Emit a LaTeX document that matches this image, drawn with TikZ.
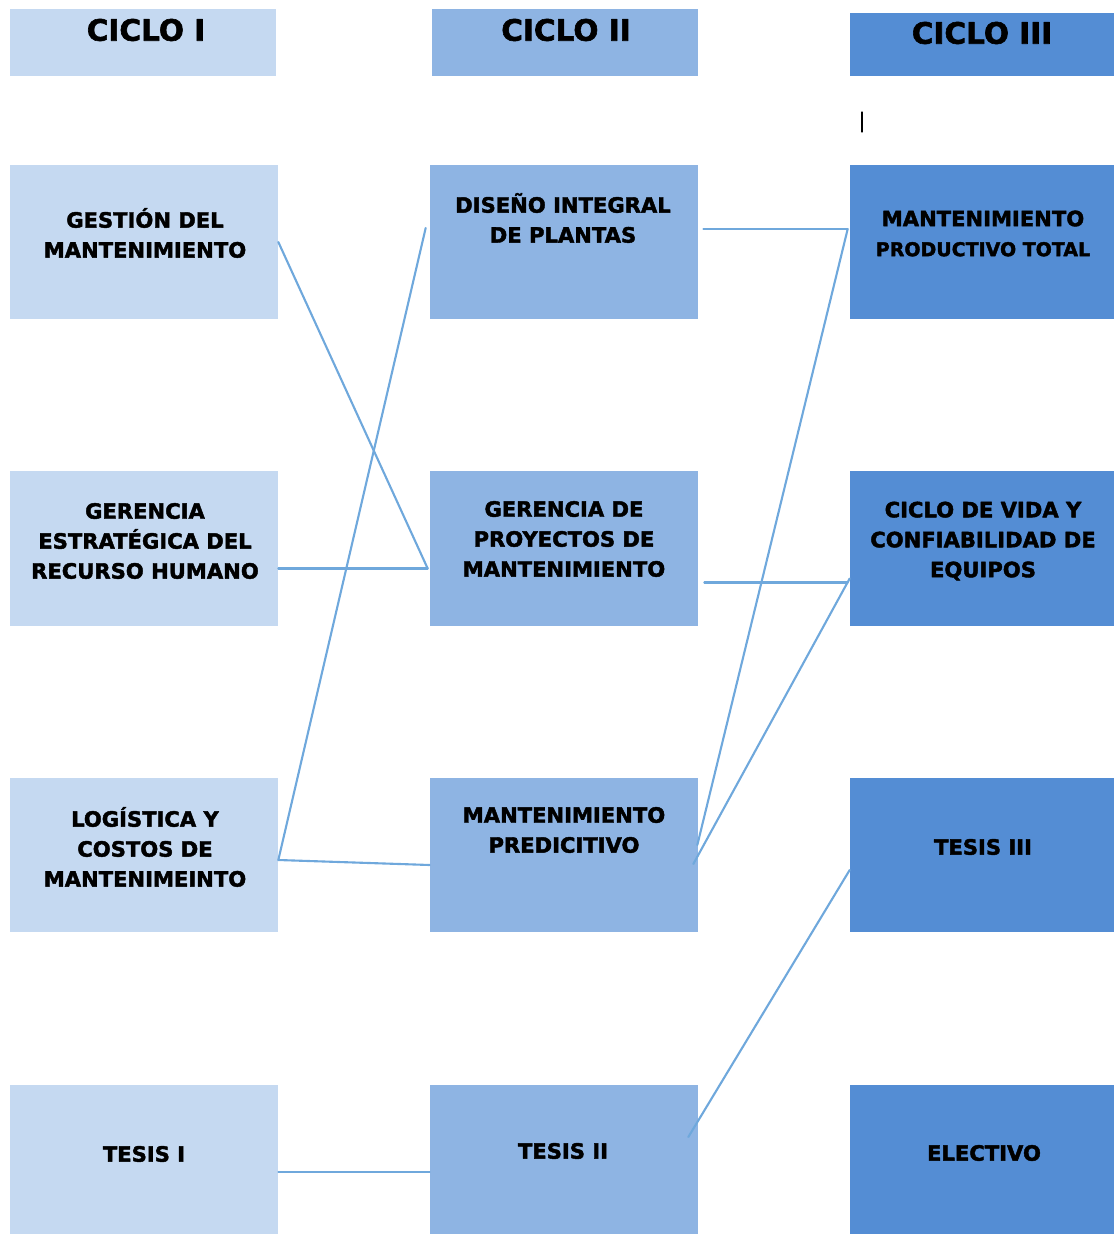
\documentclass[tikz,border=0pt]{standalone}
\usepackage{fontspec}
\setmainfont{DejaVu Sans}[BoldFeatures={FakeBold=2}]
\usetikzlibrary{calc}
\definecolor{cicloA}{RGB}{197,217,241}
\definecolor{cicloB}{RGB}{142,180,227}
\definecolor{cicloC}{RGB}{84,141,212}
\definecolor{azulenlace}{RGB}{111,168,220}

\begin{document}
\begin{tikzpicture}[x=0.025cm,y=-0.025cm,line cap=round,line join=round,
  cabecera/.style={rectangle,inner sep=0pt,minimum width=6.65cm,minimum height=1.675cm},
  caja/.style={rectangle,inner sep=0pt,minimum width=6.7cm,minimum height=3.85cm},
  titulo/.style={inner sep=0pt,font=\fontsize{21}{25}\selectfont\bfseries},
  texto/.style={inner sep=0pt,align=center,font=\fontsize{15}{21.3}\selectfont\bfseries},
  cruce/.style={draw=azulenlace,line width=1.5pt}]
  \useasboundingbox (0,0) rectangle (1114,1234);
  \begin{scope}
  \clip (0,0) rectangle (1114,1234);
  % cabeceras
  \node[cabecera,fill=cicloA] (cicloI) at (143,42.5) {};
  \node[cabecera,fill=cicloB] (cicloII) at (565,42.5) {};
  \node[cabecera,fill=cicloC,minimum width=6.6cm,minimum height=1.575cm] (cicloIII) at (982,44.5) {};
  \node[titulo] (cicloI-t) at (146,30) {CICLO I};
  \node[titulo] (cicloII-t) at (566,30) {CICLO II};
  \node[titulo] (cicloIII-t) at (982,33) {CICLO III};
  \draw[line width=0.9pt] (862,112) -- (862,132);
  % ciclo I
  \node[caja,fill=cicloA] (gestion) at (144,242) {};
  \node[caja,fill=cicloA] (gerrh) at (144,548.5) {};
  \node[caja,fill=cicloA] (logis) at (144,855) {};
  \node[caja,fill=cicloA] (tes1) at (144,1162) {};
  % ciclo II
  \node[caja,fill=cicloB] (diseno) at (564,242) {};
  \node[caja,fill=cicloB] (gerpm) at (564,548.5) {};
  \node[caja,fill=cicloB] (predic) at (564,855) {};
  \node[caja,fill=cicloB] (tes2) at (564,1162) {};
  % ciclo III
  \node[caja,fill=cicloC,minimum width=6.6cm] (tpm) at (982,242) {};
  \node[caja,fill=cicloC,minimum width=6.6cm] (vida) at (982,548.5) {};
  \node[caja,fill=cicloC,minimum width=6.6cm] (tes3) at (982,855) {};
  \node[caja,fill=cicloC,minimum width=6.6cm] (elect) at (982,1162) {};
  % textos
  \node[texto] (gestion-t) at (145,233) {GESTIÓN DEL\\MANTENIMIENTO};
  \node[texto] (gerrh-t) at (145,541) {GERENCIA\\ESTRATÉGICA DEL\\RECURSO HUMANO};
  \node[texto] (logis-t) at (145,847) {LOGÍSTICA Y\\COSTOS DE\\MANTENIMEINTO};
  \node[texto] (tes1-t) at (144,1154) {TESIS I};
  \node[texto] (diseno-t) at (563,218) {DISEÑO INTEGRAL\\DE PLANTAS};
  \node[texto] (gerpm-t) at (564,539) {GERENCIA DE\\PROYECTOS DE\\MANTENIMIENTO};
  \node[texto] (predic-t) at (564,830) {MANTENIMIENTO\\PREDICITIVO};
  \node[texto] (tes2-t) at (563,1151) {TESIS II};
  \node[texto] (tpm-t) at (983,233.5) {MANTENIMIENTO\\{\fontsize{13.5}{21.3}\selectfont PRODUCTIVO TOTAL}};
  \node[texto] (vida-t) at (983,541) {CICLO DE VIDA Y\\CONFIABILIDAD DE\\EQUIPOS};
  \node[texto] (tes3-t) at (983,847) {TESIS III};
  \node[texto] (elect-t) at (984,1153) {ELECTIVO};
  % enlaces
  \draw[cruce] (gestion.east) -- ($(gerpm.west)+(-2,20)$);
  \draw[cruce] ($(gerrh.east)+(0,20)$) -- ($(gerpm.west)+(-2,20)$);
  \draw[cruce] ($(logis.east)+(0,5)$) -- ($(diseno.west)+(-4,-14)$);
  \draw[cruce] ($(logis.east)+(0,5)$) -- ($(predic.west)+(0,10)$);
  \draw[cruce] ($(diseno.east)+(5,-13)$) -- ($(tpm.west)+(-2,-13)$);
  \draw[cruce] ($(predic.east)+(-1,-10)$) -- ($(tpm.west)+(-2,-13)$);
  \draw[cruce] ($(gerpm.east)+(6,34)$) -- ($(vida.west)+(-2,34)$);
  \draw[cruce] ($(predic.east)+(-5,9)$) -- ($(vida.west)+(0,30)$);
  \draw[cruce] ($(tes2.east)+(-10,-25)$) -- ($(tes3.west)+(0,15)$);
  \draw[cruce] ($(tes1.east)+(0,10)$) -- ($(tes2.west)+(0,10)$);
  \end{scope}
\end{tikzpicture}
\end{document}
